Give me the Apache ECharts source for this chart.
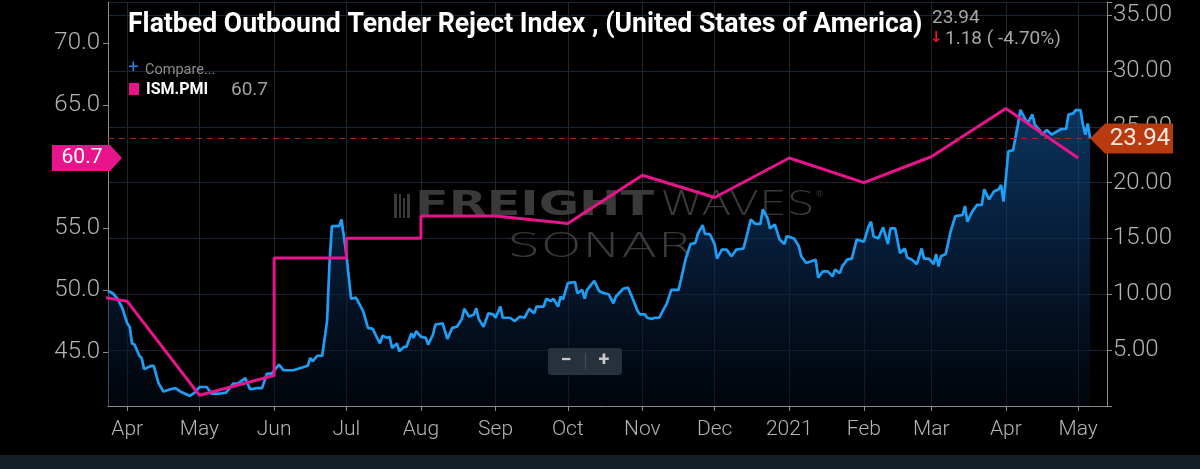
<!DOCTYPE html>
<html>
<head>
<meta charset="utf-8">
<title>Flatbed Outbound Tender Reject Index</title>
<script src="https://cdn.jsdelivr.net/npm/echarts@6/dist/echarts.min.js"></script>
<style>
  html, body { margin: 0; padding: 0; background: #000; }
  #chart { width: 1200px; height: 469px; }
</style>
</head>
<body>
<div id="chart"></div>
<script>
// ISM manufacturing PMI (left axis). a repeated date gives the vertical steps
var pmiDates = ['2020-03-01', '2020-04-01', '2020-05-01', '2020-06-01', '2020-06-01', '2020-07-01',
    '2020-07-01', '2020-08-01', '2020-08-01', '2020-09-01', '2020-10-01', '2020-11-01', '2020-12-01',
    '2021-01-01', '2021-02-01', '2021-03-01', '2021-04-01', '2021-05-01'];
var pmiValues = [50.1, 49.1, 41.5, 43.1, 52.6, 52.6, 54.2, 54.2, 56.0, 56.0, 55.4, 59.3, 57.5,
    60.7, 58.7, 60.8, 64.7, 60.7];

// flatbed OTRI (right axis): [days after 2020-04-01, value]
var otriPoints = [
    [-8, 10.3], [-6, 10.1], [-4, 9.6], [-2, 8.75], [0, 7.4], [1, 7.1], [2, 5.6], [3, 5.5], [5, 4.5],
    [6, 4.3], [7, 3.3], [10, 3.6], [11, 3.6], [13, 2.05], [15, 1.3], [18, 1.5], [20, 1.6], [22, 1.3],
    [24, 1.1], [26, 0.9], [28, 1.2], [30, 1.7], [33, 1.7], [35, 1.1], [38, 1.1], [41, 1.2], [44, 2.0],
    [46, 2.0], [49, 2.5], [51, 1.5], [54, 1.6], [56, 1.6], [58, 2.9], [60, 2.9], [63, 3.7], [65, 3.2],
    [69, 3.2], [72, 3.4], [75, 3.6], [76, 4.3], [77, 4.0], [79, 4.5], [81, 4.5], [83, 7.6], [84, 12.7],
    [85, 16.1], [88, 16.1], [89, 16.7], [91, 13.6], [93, 9.6], [95, 9.7], [98, 8.5], [100, 7.0],
    [102, 6.9], [104, 6.0], [105, 5.6], [106, 6.3], [108, 6.1], [109, 6.2], [110, 5.2], [112, 5.6],
    [113, 4.9], [115, 5.3], [116, 5.3], [118, 6.5], [119, 6.1], [120, 6.7], [122, 6.2], [124, 6.1],
    [125, 5.5], [127, 6.4], [128, 7.3], [131, 7.4], [133, 6.0], [135, 7.0], [137, 7.1], [139, 7.8],
    [140, 8.7], [142, 8.0], [144, 8.2], [145, 8.75], [146, 7.8], [148, 7.1], [150, 8.3], [152, 8.2],
    [153, 7.9], [155, 8.9], [156, 7.9], [159, 7.9], [161, 7.6], [163, 8.0], [165, 7.9], [167, 8.7],
    [169, 8.3], [170, 8.9], [173, 8.9], [174, 9.6], [176, 9.4], [177, 9.6], [179, 8.9], [180, 9.8],
    [181, 9.55], [183, 11.0], [186, 11.1], [187, 10.1], [189, 10.4], [190, 9.6], [191, 10.4],
    [194, 11.2], [196, 10.3], [198, 10.1], [200, 10.0], [202, 9.2], [203, 9.8], [206, 10.5],
    [208, 10.6], [210, 9.6], [212, 8.5], [213, 8.2], [215, 8.2], [216, 7.9], [218, 7.8], [219, 7.9],
    [221, 7.9], [223, 8.75], [224, 9.1], [226, 10.4], [229, 10.4], [230, 11.3], [232, 13.2],
    [234, 14.5], [236, 14.6], [237, 15.4], [239, 16.2], [240, 15.4], [242, 15.4], [244, 14.5],
    [245, 13.2], [247, 14.0], [249, 14.0], [251, 13.4], [253, 14.0], [256, 14.1], [258, 15.8],
    [259, 16.7], [261, 16.3], [263, 16.3], [264, 17.6], [266, 16.8], [267, 15.9], [269, 16.25],
    [271, 14.9], [273, 14.5], [274, 15.2], [277, 15.0], [279, 14.3], [280, 13.4], [282, 12.8],
    [286, 13.1], [287, 11.5], [289, 12.05], [291, 12.05], [293, 11.6], [294, 12.2], [296, 11.9],
    [297, 12.5], [299, 13.1], [301, 13.2], [303, 14.9], [306, 14.7], [308, 16.1], [309, 16.5],
    [310, 15.2], [312, 15.0], [314, 16.0], [316, 14.5], [317, 15.9], [319, 15.9], [321, 13.7],
    [323, 14.1], [324, 13.3], [326, 13.1], [328, 12.7], [330, 14.1], [331, 13.2], [333, 13.2],
    [335, 12.7], [336, 13.6], [337, 12.5], [338, 13.4], [340, 13.6], [342, 15.6], [344, 17.0],
    [347, 17.1], [348, 17.9], [349, 16.5], [351, 17.4], [353, 18.0], [355, 18.0], [356, 19.4],
    [358, 18.5], [360, 19.2], [362, 19.4], [363, 19.8], [364, 18.3], [365, 20.4], [366, 22.8],
    [368, 22.9], [370, 25.2], [371, 26.5], [372, 26.1], [374, 25.3], [376, 26.1], [377, 25.2],
    [379, 24.7], [380, 24.3], [382, 24.7], [384, 24.3], [386, 24.55], [388, 24.8], [390, 24.8],
    [391, 26.1], [393, 26.2], [394, 26.5], [396, 26.5], [397, 25.2], [398, 24.3], [399, 25.3],
    [400, 23.94]
];

var monthTicks = ['2020-04-01', '2020-05-01', '2020-06-01', '2020-07-01', '2020-08-01', '2020-09-01',
    '2020-10-01', '2020-11-01', '2020-12-01', '2021-01-01', '2021-02-01', '2021-03-01', '2021-04-01',
    '2021-05-01'];
var monthLabels = ['Apr', 'May', 'Jun', 'Jul', 'Aug', 'Sep', 'Oct', 'Nov', 'Dec', '2021', 'Feb', 'Mar',
    'Apr', 'May'];
var leftTicks = [45, 50, 55, 60, 65, 70];

var lastOtri = 23.94;
var lastPmi = 60.7;

function toTime(s) {
    var p = s.split('-');
    return new Date(+p[0], p[1] - 1, +p[2]).getTime();
}
function dayTime(d) {
    return new Date(2020, 3, 1 + d).getTime();
}

var tickTimes = monthTicks.map(toTime);
var pmiData = pmiDates.map(function (d, i) { return [toTime(d), pmiValues[i]]; });
var otriData = otriPoints.map(function (p) { return [dayTime(p[0]), p[1]]; });

var labelFont = { color: '#b4b4b4', fontFamily: 'Roboto', fontWeight: 300 };

var chart = echarts.init(document.getElementById('chart'));

chart.setOption({
    backgroundColor: '#000',
    animation: false,
    grid: { left: 108, right: 93, top: 2, bottom: 63, containLabel: false, outerBoundsMode: 'none' },
    xAxis: {
        // timestamps on a value axis so the month ticks can be placed exactly
        type: 'value',
        min: toTime('2020-03-24'),
        max: toTime('2021-05-13'),
        axisLine: { lineStyle: { color: '#8a8a8a' } },
        axisTick: { customValues: tickTimes, length: 5, lineStyle: { color: '#8a8a8a' } },
        axisLabel: Object.assign({
            customValues: tickTimes,
            fontSize: 21,
            margin: 13,
            formatter: function (v) {
                var i = tickTimes.indexOf(v);
                return i >= 0 ? monthLabels[i] : '';
            }
        }, labelFont),
        splitLine: { show: true, lineStyle: { color: '#1c2733', width: 1 } }
    },
    yAxis: [{
        type: 'value',
        position: 'left',
        min: 40.63,
        max: 73.32,
        axisLine: { show: true, lineStyle: { color: '#8a8a8a' } },
        axisTick: { show: true, customValues: leftTicks, length: 5, lineStyle: { color: '#8a8a8a' } },
        axisLabel: Object.assign({
            customValues: leftTicks,
            fontSize: 24,
            margin: 8,
            // the label under the value tag is hidden
            formatter: function (v) { return Math.abs(v - lastPmi) < 3 ? '' : v.toFixed(1); }
        }, labelFont),
        splitLine: { show: false }
    }, {
        type: 'value',
        position: 'right',
        min: 0,
        max: 36.17,
        interval: 5,
        axisLine: { show: true, lineStyle: { color: '#8a8a8a' } },
        axisTick: { show: true, length: 5, lineStyle: { color: '#8a8a8a' } },
        axisLabel: Object.assign({
            fontSize: 24,
            margin: 6,
            formatter: function (v) { return (v > 0 && v % 5 === 0) ? v.toFixed(2) : ''; }
        }, labelFont),
        splitLine: { show: true, lineStyle: { color: '#1c2733', width: 1 } }
    }],
    series: [{
        name: 'Flatbed OTRI',
        type: 'line',
        yAxisIndex: 1,
        data: otriData,
        showSymbol: false,
        lineStyle: { color: '#1e9ff5', width: 2.7 },
        itemStyle: { color: '#1e9ff5' },
        areaStyle: {
            color: new echarts.graphic.LinearGradient(0, 0, 0, 1, [
                { offset: 0, color: 'rgba(18,80,145,0.92)' },
                { offset: 0.55, color: 'rgba(9,40,78,0.85)' },
                { offset: 1, color: 'rgba(3,10,22,0.7)' }
            ])
        },
        markLine: {
            silent: true,
            symbol: 'none',
            label: { show: false },
            lineStyle: { color: '#a02c12', type: [6, 5], width: 1 },
            data: [{ yAxis: lastOtri }]
        },
        z: 2
    }, {
        name: 'ISM.PMI',
        type: 'line',
        yAxisIndex: 0,
        data: pmiData,
        showSymbol: false,
        lineStyle: { color: '#e8148c', width: 3 },
        itemStyle: { color: '#e8148c' },
        z: 3
    }]
});

// value tags sit on the axes at the latest values
var yOtri = chart.convertToPixel({ yAxisIndex: 1 }, lastOtri);
var yPmi = chart.convertToPixel({ yAxisIndex: 0 }, lastPmi);

var wm = '#3a3a3a';
chart.setOption({
    graphic: [
        // watermark
        { type: 'group', z: 1, silent: true, children: [
            { type: 'rect', shape: { x: 394, y: 194, width: 3, height: 24 }, style: { fill: wm } },
            { type: 'rect', shape: { x: 399, y: 194, width: 2, height: 24 }, style: { fill: wm } },
            { type: 'rect', shape: { x: 403, y: 198, width: 2, height: 20 }, style: { fill: wm } },
            { type: 'rect', shape: { x: 407, y: 194, width: 3, height: 24 }, style: { fill: wm } },
            { type: 'text', x: 415, y: 206, scaleX: 1.45, style: { text: 'FREIGHT', fill: wm,
                font: 'bold 34px "DejaVu Sans"', verticalAlign: 'middle' } },
            { type: 'text', x: 660, y: 206, scaleX: 1.3, style: { text: 'WAVES', fill: wm,
                font: '200 34px "DejaVu Sans"', verticalAlign: 'middle' } },
            { type: 'text', x: 815, y: 195, style: { text: '®', fill: wm, font: '9px "DejaVu Sans"',
                verticalAlign: 'middle' } },
            { type: 'text', x: 507, y: 248, scaleX: 1.55, style: { text: 'SONAR', fill: wm,
                font: '200 34px "DejaVu Sans"', verticalAlign: 'middle' } }
        ] },
        // title + last value
        { type: 'text', x: 128, y: 25, scaleX: 0.95, z: 10, style: {
            text: 'Flatbed Outbound Tender Reject Index , (United States of America)',
            fill: '#ffffff', font: 'bold 28px Roboto', verticalAlign: 'middle' } },
        { type: 'text', x: 932, y: 18, z: 10, style: { text: '23.94', fill: '#a8a8a8',
            font: '19px Roboto', verticalAlign: 'middle' } },
        { type: 'text', x: 930, y: 38, z: 10, style: { text: '↓', fill: '#ee1030',
            font: 'bold 15px "DejaVu Sans"', verticalAlign: 'middle' } },
        { type: 'text', x: 945, y: 39, z: 10, style: { text: '1.18 ( -4.70%)', fill: '#a8a8a8',
            font: '19px Roboto', verticalAlign: 'middle' } },
        // legend
        { type: 'text', x: 128, y: 68, z: 10, style: { text: '+', fill: '#2f7fe0',
            font: '19px Roboto', verticalAlign: 'middle' } },
        { type: 'text', x: 145, y: 70, z: 10, style: { text: 'Compare...', fill: '#8c8c8c',
            font: '14.5px Roboto', verticalAlign: 'middle' } },
        { type: 'rect', z: 10, shape: { x: 129, y: 83, width: 10, height: 12 }, style: { fill: '#e8148c' } },
        { type: 'text', x: 146, y: 90, z: 10, style: { text: 'ISM.PMI', fill: '#ffffff',
            font: 'bold 16px Roboto', verticalAlign: 'middle' } },
        { type: 'text', x: 231, y: 90, z: 10, style: { text: '60.7', fill: '#a0a0a0',
            font: '19px Roboto', verticalAlign: 'middle' } },
        // zoom buttons
        { type: 'rect', z: 10, shape: { x: 548, y: 348, width: 74, height: 27, r: 3 }, style: { fill: '#27313b' } },
        { type: 'rect', z: 11, shape: { x: 585, y: 353, width: 1, height: 17 }, style: { fill: '#46505a' } },
        { type: 'text', x: 566, y: 361, z: 11, style: { text: '−', fill: '#c8c8c8',
            font: 'bold 20px Roboto', align: 'center', verticalAlign: 'middle' } },
        { type: 'text', x: 604, y: 361, z: 11, style: { text: '+', fill: '#c8c8c8',
            font: 'bold 20px Roboto', align: 'center', verticalAlign: 'middle' } },
        // value tags
        { type: 'polygon', z: 20, shape: { points: [[52, yPmi - 13], [110, yPmi - 13], [122, yPmi],
            [110, yPmi + 13], [52, yPmi + 13]] }, style: { fill: '#e8148c' } },
        { type: 'text', x: 82, y: yPmi, z: 21, style: { text: String(lastPmi), fill: '#ffffff',
            font: '21px Roboto', align: 'center', verticalAlign: 'middle' } },
        { type: 'polygon', z: 20, shape: { points: [[1090, yOtri], [1105, yOtri - 15], [1173, yOtri - 15],
            [1173, yOtri + 15], [1105, yOtri + 15]] }, style: { fill: '#b93a0f' } },
        { type: 'text', x: 1140, y: yOtri, z: 21, style: { text: lastOtri.toFixed(2), fill: '#fbe9e2',
            font: '24px Roboto', align: 'center', verticalAlign: 'middle' } },
        // bottom band
        { type: 'rect', z: 5, shape: { x: 0, y: 455, width: 1200, height: 14 }, style: { fill: '#161e26' } }
    ]
});
</script>
</body>
</html>
